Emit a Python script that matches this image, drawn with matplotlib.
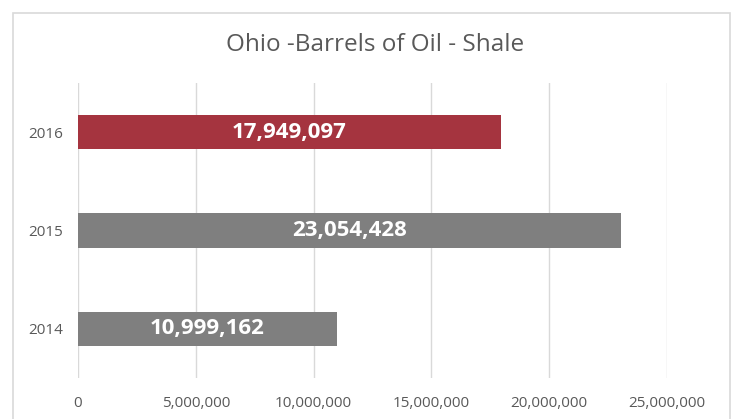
import matplotlib.pyplot as plt
from matplotlib.patches import Rectangle

years = ['2014', '2015', '2016']
barrels = [10999162, 23054428, 17949097]
colors = ['#7f7f7f', '#7f7f7f', '#a5343f']
xticks = [0, 5000000, 10000000, 15000000, 20000000, 25000000]

plt.rcParams['font.family'] = ['Open Sans', 'DejaVu Sans']

fig = plt.figure(figsize=(7.32, 4.19), dpi=100)
ax = fig.add_axes([0.1066, 0.098, 0.8044, 0.704])

# light frame round the chart area
fig.patches.append(Rectangle((12.5 / 732, -0.1), 717.5 / 732, 1.1 - 13 / 419,
                             transform=fig.transFigure, fill=False,
                             edgecolor='#d9d9d9', linewidth=1.2))

ypos = range(len(years))
bars = ax.barh(ypos, barrels, height=0.35, color=colors, zorder=3)
for y, v in zip(ypos, barrels):
    ax.text(v / 2, y, f'{v:,}', ha='center', va='center', color='white',
            fontsize=16, fontweight='bold', zorder=4)

ax.set_xlim(0, 25000000)
ax.set_ylim(-0.5, 2.5)
ax.set_yticks(list(ypos))
ax.set_yticklabels(years)
ax.set_xticks(xticks)
ax.set_xticklabels([f'{t:,}' for t in xticks])
ax.tick_params(axis='both', length=0, labelsize=11, labelcolor='#595959')
ax.tick_params(axis='x', pad=13)
ax.tick_params(axis='y', pad=11)
ax.grid(axis='x', color='#d9d9d9', linewidth=1, zorder=0)
for s in ax.spines.values():
    s.set_visible(False)

fig.text(0.512, 0.893, 'Ohio -Barrels of Oil - Shale', ha='center', va='center',
         fontsize=17.5, color='#595959')

fig.savefig('out.png', dpi=100)
